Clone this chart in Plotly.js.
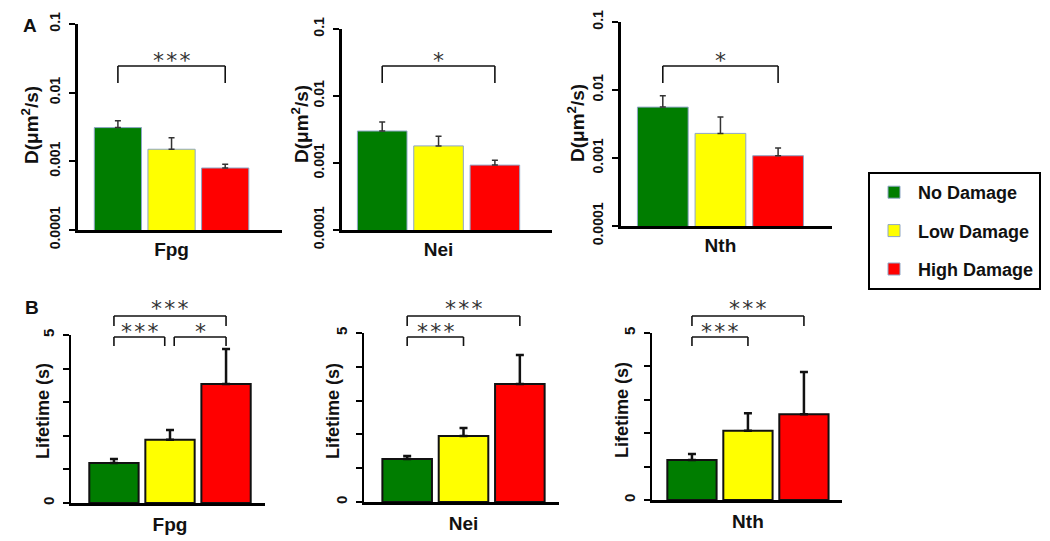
<!DOCTYPE html>
<html>
<head>
<meta charset="utf-8">
<script src="https://cdn.plot.ly/plotly-3.0.1.min.js"></script>
<style>
  body { margin: 0; background: #fff; }
  #chart { width: 1050px; height: 541px; }
</style>
</head>
<body>
<div id="chart"></div>
<script>
// proteins and damage levels
var genes = ['Fpg', 'Nei', 'Nth'];
var levels = ['No Damage', 'Low Damage', 'High Damage'];
var colors = ['#007d00', '#ffff00', '#ff0000'];

// panel A: diffusion coefficient D (um^2/s), mean and upper error
var diffNo = [0.0031, 0.0030, 0.0056];
var diffNoErr = [0.0008, 0.0011, 0.0026];
var diffLow = [0.0015, 0.0018, 0.0023];
var diffLowErr = [0.0007, 0.0007, 0.0017];
var diffHigh = [0.0008, 0.00093, 0.00108];
var diffHighErr = [0.00011, 0.00017, 0.00032];

// panel B: lifetime (s), mean and upper error
var lifeNo = [1.19, 1.27, 1.20];
var lifeNoErr = [0.12, 0.09, 0.18];
var lifeLow = [1.88, 1.95, 2.07];
var lifeLowErr = [0.29, 0.24, 0.53];
var lifeHigh = [3.54, 3.49, 2.57];
var lifeHighErr = [1.04, 0.86, 1.26];

// significance marks
var sigA = ['***', '*', '*'];
var sigB = [
  [[0, 2, '***'], [0, 1, '***'], [1, 2, '*']],
  [[0, 2, '***'], [0, 1, '***']],
  [[0, 2, '***'], [0, 1, '***']]
];

var W = 1050, H = 541;
var FONT = 'Liberation Sans, Arial, Helvetica, sans-serif';
var BARGAP = 0.2, GROUPGAP = 0.12;

// subplot boxes in pixels
var boxA = [
  {l: 78, r: 282, t: 24, b: 230, range: [-0.465, 0.549], titleX: 30, titleY: 125},
  {l: 342, r: 552, t: 29, b: 230, range: [-0.457, 0.537], titleX: 300, titleY: 124},
  {l: 621, r: 832, t: 22, b: 226, range: [-0.46, 0.516], titleX: 576, titleY: 123}
];
var boxB = [
  {l: 71, r: 265, t: 335, b: 503, range: [-0.471, 0.452], titleX: 43, titleY: 411},
  {l: 364, r: 559, t: 333, b: 502, range: [-0.471, 0.452], titleX: 333, titleY: 411},
  {l: 652, r: 842, t: 333, b: 500, range: [-0.457, 0.448], titleX: 622, titleY: 410}
];

var diffVals = [diffNo, diffLow, diffHigh];
var diffErrs = [diffNoErr, diffLowErr, diffHighErr];
var lifeVals = [lifeNo, lifeLow, lifeHigh];
var lifeErrs = [lifeNoErr, lifeLowErr, lifeHighErr];

var data = [];
var layout = {
  width: W, height: H,
  margin: {l: 0, r: 0, t: 0, b: 0},
  paper_bgcolor: '#fff', plot_bgcolor: '#fff',
  barmode: 'group', bargap: BARGAP, bargroupgap: GROUPGAP,
  showlegend: true,
  legend: {
    x: 868 / W, y: 1 - 172 / H, xanchor: 'left', yanchor: 'top',
    bordercolor: '#000', borderwidth: 2, bgcolor: '#fff',
    font: {family: FONT, size: 18, weight: 'bold', color: '#111'},
    tracegroupgap: 12, itemwidth: 38
  },
  shapes: [],
  annotations: []
};

function barCenter(k) {
  var w = 1 - BARGAP;
  return -w / 2 + (k + 0.5) * w / 3;
}

// bracket between bars i and j; yTop/yLeg/yStar are pixel rows
function bracket(n, box, i, j, yTop, yLeg, yStar, label, shift) {
  var xr = box.range;
  var fx = function (v) { return (v - xr[0]) / (xr[1] - xr[0]); };
  var fy = function (py) { return (box.b - py) / (box.b - box.t); };
  var x0 = fx(barCenter(i) + shift[0]), x1 = fx(barCenter(j) + shift[1]);
  var xref = 'x' + n + ' domain', yref = 'y' + n + ' domain';
  var line = {color: '#111', width: 1.6};
  layout.shapes.push(
    {type: 'line', xref: xref, yref: yref, x0: x0, x1: x1, y0: fy(yTop), y1: fy(yTop), line: line},
    {type: 'line', xref: xref, yref: yref, x0: x0, x1: x0, y0: fy(yTop), y1: fy(yLeg), line: line},
    {type: 'line', xref: xref, yref: yref, x0: x1, x1: x1, y0: fy(yTop), y1: fy(yLeg), line: line}
  );
  // asterisks sit high in their line box, so anchor the box bottom below the glyph
  layout.annotations.push({
    xref: xref, yref: yref, x: (x0 + x1) / 2, y: fy(yStar + 18),
    text: label.split('').join('\u200a'), showarrow: false, yanchor: 'bottom',
    font: {family: 'DejaVu Sans, sans-serif', size: 22, color: '#333'}
  });
}

function addPanel(n, box, gene, vals, errs, isLog) {
  var sfx = n === 1 ? '' : String(n);
  for (var k = 0; k < 3; k++) {
    data.push({
      type: 'bar',
      x: [gene], y: [vals[k]],
      name: levels[k], legendgroup: levels[k],
      showlegend: n === 1,
      xaxis: 'x' + sfx, yaxis: 'y' + sfx,
      marker: {
        color: colors[k],
        line: isLog ? {color: '#8ea6c6', width: 1} : {color: '#111', width: 2}
      },
      error_y: {
        type: 'data', symmetric: false, array: [errs[k]], arrayminus: [0],
        color: isLog ? '#333' : '#111', thickness: isLog ? 1.5 : 2.5, width: isLog ? 3 : 4
      },
      hoverinfo: 'y'
    });
  }
  var lw = isLog ? 3 : 2.5;
  layout['xaxis' + sfx] = {
    domain: [box.l / W, box.r / W], anchor: 'y' + sfx,
    type: 'category', range: box.range,
    showline: true, linecolor: '#000', linewidth: lw,
    ticks: '', showgrid: false, zeroline: false, fixedrange: true,
    ticklabelstandoff: isLog ? 0 : 3,
    tickfont: {family: FONT, size: 19, weight: 'bold', color: '#111'}
  };
  var ya = {
    domain: [1 - box.b / H, 1 - box.t / H], anchor: 'x' + sfx,
    showline: true, linecolor: '#000', linewidth: lw,
    ticks: 'outside', ticklen: 6, tickwidth: 2, tickcolor: '#000',
    showgrid: false, zeroline: false, fixedrange: true,
    tickangle: -90, ticklabelstandoff: 3,
    tickfont: {family: FONT, size: isLog ? 14 : 15, weight: 'bold', color: '#111'}
  };
  if (isLog) {
    ya.type = 'log';
    ya.range = [-4, -1];
    ya.tickvals = [0.0001, 0.001, 0.01, 0.1];
    ya.ticktext = ['0.0001', '0.001', '0.01', '0.1'];
  } else {
    ya.range = [0, 5];
    ya.tickvals = [0, 5];
    ya.minor = {dtick: 1, ticks: 'outside', ticklen: 6, tickwidth: 2, tickcolor: '#000', showgrid: false};
  }
  layout['yaxis' + sfx] = ya;
  layout.annotations.push({
    xref: 'paper', yref: 'paper', x: box.titleX / W, y: 1 - box.titleY / H,
    text: isLog ? 'D(\u03bcm<sup>2</sup>/s)' : 'Lifetime (s)', textangle: -90,
    showarrow: false, xanchor: 'center', yanchor: 'middle',
    font: {family: FONT, size: isLog ? 19 : 18, weight: 'bold', color: '#111'}
  });
}

for (var g = 0; g < 3; g++) {
  addPanel(g + 1, boxA[g], genes[g], diffVals.map(function (s) { return s[g]; }),
    diffErrs.map(function (s) { return s[g]; }), true);
  bracket(g + 1, boxA[g], 0, 2, 66, 83, 57, sigA[g], [0, 0]);
}
for (var g = 0; g < 3; g++) {
  addPanel(g + 4, boxB[g], genes[g], lifeVals.map(function (s) { return s[g]; }),
    lifeErrs.map(function (s) { return s[g]; }), false);
  sigB[g].forEach(function (s) {
    var outer = s[1] - s[0] === 2;
    var shift = [0, 0];
    if (!outer && s[0] === 0 && sigB[g].length === 3) shift = [0, -0.025];
    if (!outer && s[0] === 1) shift = [0.02, 0];
    bracket(g + 4, boxB[g], s[0], s[1], outer ? 316 : 337, outer ? 326 : 346,
      outer ? 305 : 328, s[2], shift);
  });
}

// panel letters
[['A', 30, 25], ['B', 32, 307]].forEach(function (p) {
  layout.annotations.push({
    xref: 'paper', yref: 'paper', x: p[1] / W, y: 1 - p[2] / H,
    text: p[0], showarrow: false, xanchor: 'center', yanchor: 'middle',
    font: {family: FONT, size: 19, weight: 'bold', color: '#111'}
  });
});

Plotly.newPlot('chart', data, layout, {displayModeBar: false, staticPlot: true});
</script>
</body>
</html>
